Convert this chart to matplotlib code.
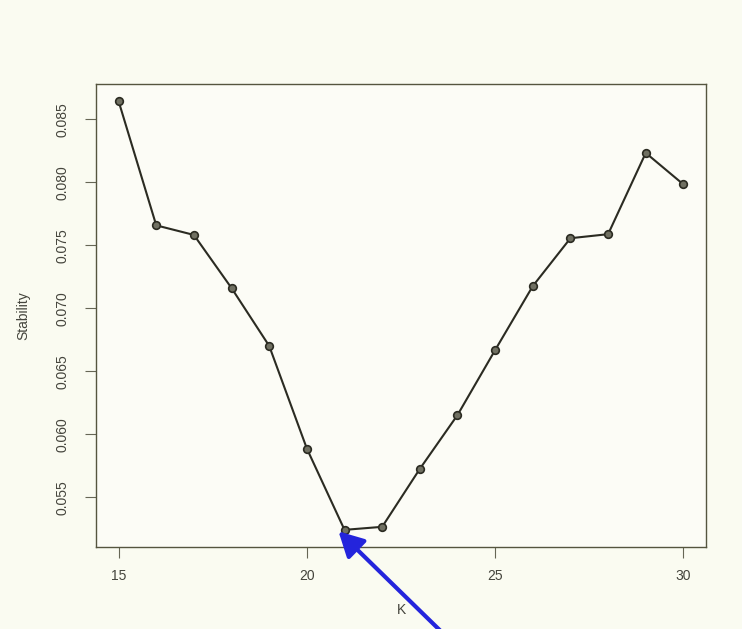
import numpy as np
import matplotlib
matplotlib.use('Agg')
import matplotlib.pyplot as plt

# values
k = [15, 16, 17, 18, 19, 20, 21, 22, 23, 24, 25, 26, 27, 28, 29, 30]
stability = [0.08645, 0.07659, 0.07583, 0.07161, 0.06702, 0.05887, 0.05242, 0.05266,
             0.05726, 0.06153, 0.06669, 0.07177, 0.07557, 0.07589, 0.08234, 0.07984]
xticks = [15, 20, 25, 30]
yticks = [0.055, 0.060, 0.065, 0.070, 0.075, 0.080, 0.085]

plt.rcParams['font.family'] = ['Liberation Sans', 'DejaVu Sans']

fig = plt.figure(figsize=(7.42, 6.29), dpi=100)
fig.patch.set_facecolor('#fafbf1')
ax = fig.add_axes([96/742, 1 - 547/629, 610/742, 463/629])
ax.set_facecolor('#fcfcf6')

ax.plot(k, stability, '-', color='#2b2b22', lw=1.5, marker='o', ms=5.5,
        mfc='#707062', mec='#2b2b22', mew=1.2)

# R style 4% padding
xr = max(k) - min(k)
yr = max(stability) - min(stability)
ax.set_xlim(min(k) - 0.04*xr, max(k) + 0.04*xr)
ax.set_ylim(min(stability) - 0.04*yr, max(stability) + 0.04*yr)

ax.set_xticks(xticks)
ax.set_yticks(yticks)
ax.set_xticklabels([str(v) for v in xticks])
ax.set_yticklabels(['%.3f' % v for v in yticks], rotation=90, va='center')
ax.tick_params(axis='both', direction='out', length=8, width=0.8, color='#666655',
               labelsize=10, labelcolor='#44443c')
ax.tick_params(axis='x', pad=8)
ax.tick_params(axis='y', pad=11)

for s in ax.spines.values():
    s.set_color('#55553f')
    s.set_linewidth(1.0)

ax.set_xlabel('K', fontsize=10, color='#44443c', labelpad=14)
ax.set_ylabel('Stability', fontsize=10, color='#44443c', labelpad=18)

# blue arrow pointing at the minimum
ax.annotate('', xy=(20.84, 0.0523), xycoords='data',
            xytext=(455, -16), textcoords='figure pixels',
            arrowprops=dict(arrowstyle='-|>,head_length=0.75,head_width=0.4',
                            color='#2424dc', lw=3, shrinkA=0, shrinkB=0,
                            mutation_scale=20),
            annotation_clip=False)

fig.savefig('out.png', dpi=100, facecolor=fig.get_facecolor())
